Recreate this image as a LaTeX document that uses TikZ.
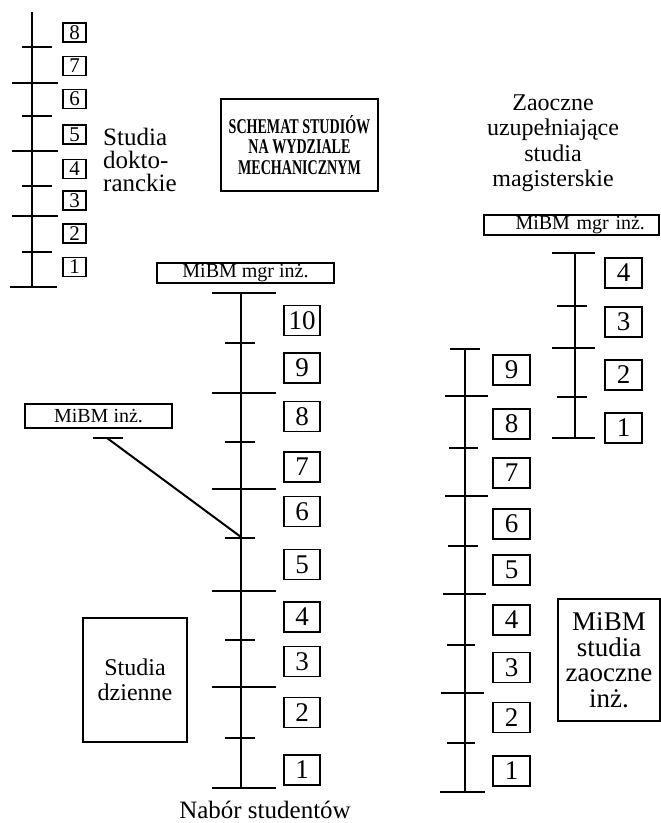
\documentclass[tikz,border=0pt]{standalone}
\usepackage{fontspec}
\setmainfont{Liberation Serif}
\newfontfamily\titlefont[FakeStretch=0.67]{Liberation Serif}
\begin{document}
\begin{tikzpicture}[x=1pt,y=-1pt,
  numbox/.style={draw, line width=1.3pt, inner sep=0pt, minimum width=37pt, minimum height=30pt, font=\fontsize{27}{27}\selectfont},
  numsmall/.style={draw, line width=1.1pt, inner sep=0pt, minimum width=23pt, minimum height=19pt, font=\fontsize{21}{21}\selectfont},
  labelbox/.style={draw, line width=1.3pt, inner sep=0pt, font=\fontsize{20}{20}\selectfont},
  spine/.style={line width=2.6pt},
  tickline/.style={line width=2pt},
  txt/.style={align=center, font=\fontsize{24}{25.5}\selectfont}]
\useasboundingbox[fill=white] (0,0) rectangle (661,823);

% ---------- left column: doctoral studies ----------
\coordinate (Ltop) at (32,12);
\coordinate (Lbot) at (32,287);
\draw[line width=1.8pt] (Ltop) -- (Lbot);
\foreach \y in {47,116,186,252} \draw[line width=1.5pt] (22,\y) -- (52,\y);
\foreach \y in {83,151,216} \draw[line width=1.5pt] (12,\y) -- (58,\y);
\draw[line width=1.5pt] (10,287) -- (57,287);
\node[numsmall] (d8) at (74.5,32.5) {8};
\node[numsmall] (d7) at (74.5,66) {7};
\node[numsmall] (d6) at (74.5,99) {6};
\node[numsmall] (d5) at (74.5,134.5) {5};
\node[numsmall] (d4) at (74.5,169) {4};
\node[numsmall] (d3) at (74.5,200.5) {3};
\node[numsmall] (d2) at (74.5,233.5) {2};
\node[numsmall] (d1) at (74.5,267) {1};
\node[align=left, anchor=west, inner sep=0pt, font=\fontsize{25}{23}\selectfont] (dokt) at (103,160) {Studia\\dokto-\\ranckie};

% ---------- title ----------
\node[draw, line width=1.3pt, minimum width=157pt, minimum height=92pt, align=center,
  font=\titlefont\bfseries\fontsize{21}{20.5}\selectfont] (title) at (299.5,145)
  {SCHEMAT STUDIÓW\\NA WYDZIALE\\MECHANICZNYM};

% ---------- right top: complementary master studies ----------
\node[txt, font=\fontsize{24}{25.5}\selectfont] (zaoczne) at (553,143) {Zaoczne\\uzupełniające\\studia\\magisterskie};
\node[labelbox, minimum height=20pt, inner xsep=14pt, text width=147pt, align=right] (mgrR) at (571.5,225) {MiBM mgr inż.};
\coordinate (Rtop) at (575,253);
\coordinate (Rbot) at (575,438);
\draw[line width=2pt] (Rtop) -- (Rbot);
\foreach \y in {253,348,438} \draw[tickline] (552,\y) -- (595,\y);
\foreach \y in {306,397} \draw[tickline] (557,\y) -- (587,\y);
\node[numbox] (u4) at (623.5,273) {4};
\node[numbox] (u3) at (623.5,322) {3};
\node[numbox] (u2) at (623.5,375) {2};
\node[numbox] (u1) at (623.5,428) {1};

% ---------- middle: full-time studies ----------
\node[labelbox, minimum width=177pt, minimum height=20pt] (mgrM) at (245.5,273) {MiBM mgr inż.};
\coordinate (Mtop) at (241,293);
\coordinate (Mbot) at (241,788);
\draw[spine] (Mtop) -- (Mbot);
\foreach \y in {293,393,489,591,687,788} \draw[tickline] (212,\y) -- (276,\y);
\foreach \y in {343,442,538,640,738} \draw[tickline] (225,\y) -- (255,\y);
\node[numbox, minimum width=36pt] (m10) at (302,320.5) {10};
\node[numbox, minimum width=36pt] (m9) at (302,368) {9};
\node[numbox, minimum width=36pt] (m8) at (302,416.5) {8};
\node[numbox, minimum width=36pt] (m7) at (302,467) {7};
\node[numbox, minimum width=36pt] (m6) at (302,511.5) {6};
\node[numbox, minimum width=36pt] (m5) at (302,564.5) {5};
\node[numbox, minimum width=36pt] (m4) at (302,617) {4};
\node[numbox, minimum width=36pt] (m3) at (302,661.5) {3};
\node[numbox, minimum width=36pt] (m2) at (302,712.5) {2};
\node[numbox, minimum width=36pt] (m1) at (302,770) {1};
\node[font=\fontsize{25}{25}\selectfont] (nabor) at (265,810) {Nabór studentów};

% engineer exit
\node[labelbox, minimum width=147pt, minimum height=24pt] (inz) at (98.5,416) {MiBM inż.};
\draw[line width=2pt] (93,438) -- (123,438);
\coordinate (dA) at (107,438);
\coordinate (dB) at (241,537);
\draw[line width=2pt] (dA) -- (dB);

\node[draw, line width=1.3pt, minimum width=104pt, minimum height=124pt, txt] (dzienne) at (135,680) {Studia\\dzienne};

% ---------- right lower: part-time engineering studies ----------
\coordinate (Ztop) at (465,349);
\coordinate (Zbot) at (465,792);
\draw[line width=2pt] (Ztop) -- (Zbot);
\draw[tickline] (450,349) -- (480,349);
\foreach \y/\a/\b in {396/445/488,496/445/488,594/443/486,693/441/484,792/440/485} \draw[tickline] (\a,\y) -- (\b,\y);
\foreach \y/\a/\b in {448/449/478,546/448/478,645/447/475,743/447/475} \draw[tickline] (\a,\y) -- (\b,\y);
\node[numbox] (z9) at (511.5,370) {9};
\node[numbox] (z8) at (511.5,424) {8};
\node[numbox] (z7) at (511.5,473) {7};
\node[numbox] (z6) at (511.5,524) {6};
\node[numbox] (z5) at (511.5,570) {5};
\node[numbox] (z4) at (511.5,620) {4};
\node[numbox] (z3) at (511.5,667.5) {3};
\node[numbox] (z2) at (511.5,717.5) {2};
\node[numbox] (z1) at (511.5,771) {1};
\node[draw, line width=1.3pt, minimum width=102pt, minimum height=122pt, align=center, font=\fontsize{27}{25.5}\selectfont, inner xsep=0pt] (zinz) at (609,660) {MiBM\\studia\\zaoczne\\inż.};
\end{tikzpicture}
\end{document}
